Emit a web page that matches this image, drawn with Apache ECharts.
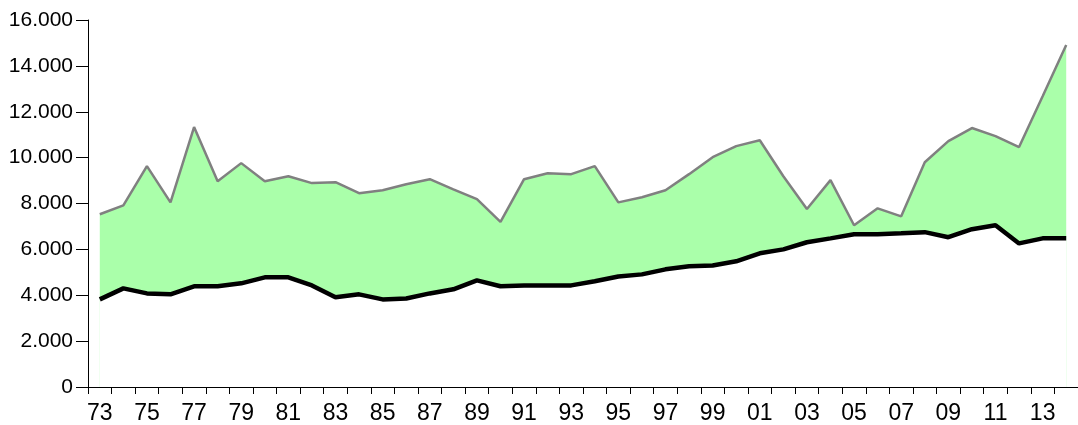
<!DOCTYPE html>
<html>
<head>
<meta charset="utf-8">
<script src="https://cdn.jsdelivr.net/npm/echarts@6/dist/echarts.min.js"></script>
<style>
    html, body { margin: 0; padding: 0; background: #fff; }
    #chart { width: 1078px; height: 425px; }
</style>
</head>
<body>
<div id="chart"></div>
<script>
    // years 1973 - 2014, shown as two-digit labels
    var years = ['73','74','75','76','77','78','79','80','81','82','83','84','85','86','87','88','89','90','91','92',
                 '93','94','95','96','97','98','99','00','01','02','03','04','05','06','07','08','09','10','11','12','13','14'];

    // upper (grey) line, green area below it
    var upper = [7530, 7920, 9630, 8050, 11330, 8970, 9760, 8970, 9190, 8890,
                 8930, 8450, 8580, 8840, 9060, 8620, 8190, 7200, 9060, 9320,
                 9280, 9630, 8050, 8270, 8580, 9280, 10020, 10500, 10760, 9190,
                 7760, 9020, 7050, 7790, 7440, 9800, 10720, 11290, 10940, 10460,
                 12680, 14910];

    // lower (black) line, white area below it
    var lower = [3820, 4300, 4080, 4040, 4390, 4390, 4520, 4780, 4780, 4430,
                 3910, 4040, 3820, 3860, 4080, 4260, 4650, 4390, 4430, 4430,
                 4430, 4610, 4820, 4910, 5130, 5260, 5300, 5480, 5830, 6000,
                 6310, 6480, 6660, 6660, 6700, 6750, 6530, 6880, 7050, 6260,
                 6480, 6480];

    var myChart = echarts.init(document.getElementById('chart'));
    var font = '"Liberation Sans", Arial, sans-serif';

    var option = {
        animation: false,
        backgroundColor: '#fff',
        grid: { left: 88, top: 20, width: 996, height: 367 },
        xAxis: [
            {
                type: 'category',
                data: years,
                boundaryGap: true,
                axisLine: { lineStyle: { color: '#000', width: 1 } },
                axisTick: { show: true, interval: 0, length: 7, lineStyle: { color: '#000' } },
                axisLabel: {
                    interval: 1, margin: 15, color: '#000', fontSize: 23, fontFamily: font
                },
                splitLine: { show: false }
            },
            {
                // second axis only to draw the inner half of the crossing ticks
                type: 'category',
                data: years,
                position: 'bottom',
                boundaryGap: true,
                axisLine: { show: false },
                axisTick: { show: true, inside: true, interval: 0, length: 7, lineStyle: { color: '#000' } },
                axisLabel: { show: false },
                splitLine: { show: false }
            }
        ],
        yAxis: {
            type: 'value',
            min: 0,
            max: 16000,
            interval: 2000,
            axisLine: { show: true, lineStyle: { color: '#000', width: 1 } },
            axisTick: { show: true, length: 12, lineStyle: { color: '#000' } },
            splitLine: { show: false },
            axisLabel: {
                margin: 15, color: '#000', fontSize: 21, fontFamily: font,
                formatter: function (v) {
                    return String(v).replace(/\B(?=(\d{3})+(?!\d))/g, '.');
                }
            }
        },
        series: [
            {
                name: 'upper',
                type: 'line',
                data: upper,
                symbol: 'none',
                lineStyle: { color: '#808080', width: 2.5 },
                areaStyle: { color: '#aaffaa', opacity: 1, origin: 'start' },
                z: 2
            },
            {
                name: 'lower',
                type: 'line',
                data: lower,
                symbol: 'none',
                lineStyle: { color: '#000', width: 4.5 },
                areaStyle: { color: '#fff', opacity: 1, origin: 'start' },
                z: 3
            }
        ]
    };

    myChart.setOption(option);
</script>
</body>
</html>
